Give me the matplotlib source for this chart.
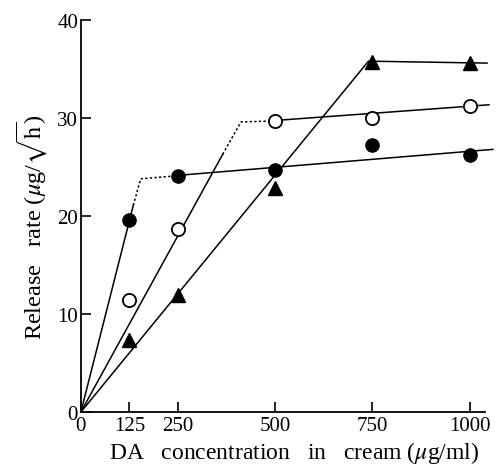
import matplotlib
matplotlib.use("Agg")
import matplotlib.pyplot as plt

plt.rcParams["font.family"] = ["Liberation Serif", "DejaVu Serif"]
plt.rcParams["mathtext.fontset"] = "stix"

# measured points
conc = [125, 250, 500, 750, 1000]
filled_circle = [19.6, 24.1, 24.7, 27.2, 26.2]
open_circle = [11.4, 18.7, 29.7, 30.0, 31.2]
triangle = [7.4, 11.9, 22.9, 35.7, 35.6]

# fitted lines: solid segments and dotted transitions (x, y)
fc_solid1_x, fc_solid1_y = [0, 135], [0, 21.1]
fc_dot_x, fc_dot_y = [135, 154, 245], [21.1, 23.8, 24.1]
fc_solid2_x, fc_solid2_y = [250, 1060], [24.15, 26.8]

oc_solid1_x, oc_solid1_y = [0, 365], [0, 26.3]
oc_dot_x, oc_dot_y = [365, 412, 495], [26.3, 29.6, 29.7]
oc_solid2_x, oc_solid2_y = [500, 1050], [29.75, 31.35]

tri_x, tri_y = [0, 740, 1045], [0, 35.8, 35.6]

xticks = [0, 125, 250, 500, 750, 1000]
yticks = [0, 10, 20, 30, 40]

fig = plt.figure(figsize=(4.96, 4.77), dpi=100)
ax = fig.add_axes([0.163, 0.134, 0.815, 0.822])

lw = 1.1
ax.plot(fc_solid1_x, fc_solid1_y, color="black", lw=lw, clip_on=False)
ax.plot(fc_dot_x, fc_dot_y, color="black", lw=lw, ls=(0, (1.5, 1.5)), clip_on=False)
ax.plot(fc_solid2_x, fc_solid2_y, color="black", lw=lw, clip_on=False)
ax.plot(oc_solid1_x, oc_solid1_y, color="black", lw=lw, clip_on=False)
ax.plot(oc_dot_x, oc_dot_y, color="black", lw=lw, ls=(0, (1.5, 1.5)), clip_on=False)
ax.plot(oc_solid2_x, oc_solid2_y, color="black", lw=lw, clip_on=False)
ax.plot(tri_x, tri_y, color="black", lw=lw, clip_on=False)

ax.plot(conc, filled_circle, "o", color="black", ms=9.5, ls="none", zorder=5, clip_on=False)
ax.plot(conc, open_circle, "o", mfc="white", mec="black", mew=1.3, ms=9.5, ls="none",
        zorder=5, clip_on=False)
ax.plot(conc, triangle, "^", color="black", ms=9.5, ls="none", zorder=5, clip_on=False)

ax.set_xlim(0, 1040)
ax.set_ylim(0, 40)
ax.set_xticks(xticks)
ax.set_yticks(yticks)
ax.spines["top"].set_visible(False)
ax.spines["right"].set_visible(False)
for s in ("left", "bottom"):
    ax.spines[s].set_linewidth(1.3)
ax.tick_params(direction="in", length=7, width=1.2, labelsize=15)
ax.tick_params(axis="y", pad=2)
ax.tick_params(axis="x", pad=3)

ax.set_xlabel(r"DA   concentration   in   cream ($\mu$g/ml)", fontsize=17, labelpad=3)
ax.set_ylabel(r"Release   rate ($\mu$g/$\sqrt{\mathrm{h}}$)", fontsize=17.5, labelpad=6)
ax.xaxis.label.set_x(0.527)
ax.yaxis.label.set_y(0.475)

fig.savefig("out.png", dpi=100)
